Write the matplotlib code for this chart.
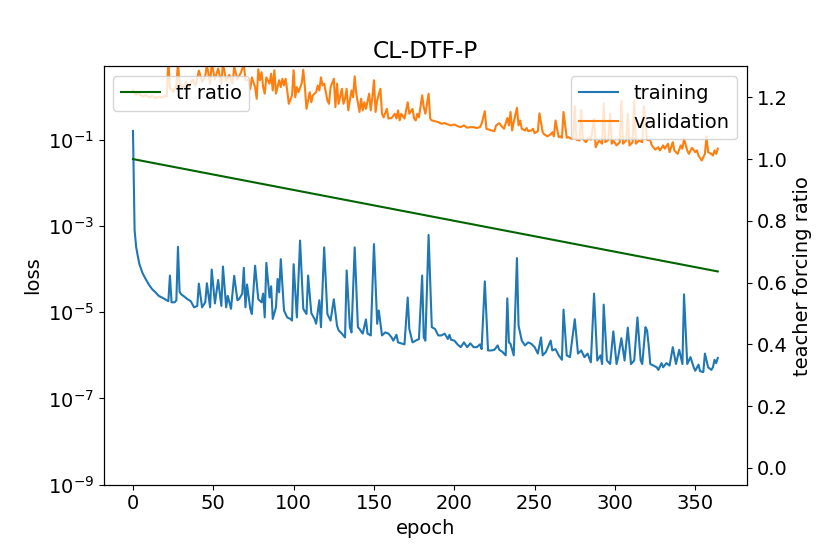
import matplotlib
matplotlib.use('Agg')
import matplotlib.pyplot as plt
from matplotlib.ticker import NullLocator

plt.rcParams['font.size'] = 14

# training loss
train_epoch = [0, 1, 2, 3, 4, 6, 8, 10, 12, 14, 16, 18, 20, 22, 23, 24, 26, 27, 28, 29,
               30, 32, 34, 36, 38, 40, 41, 43, 45, 46, 48, 49, 51, 53, 55, 56, 58, 59, 61, 63,
               65, 66, 68, 69, 70, 71, 73, 74, 76, 78, 80, 81, 82, 83, 85, 86, 87, 89, 90, 91,
               92, 94, 96, 98, 99, 100, 102, 104, 106, 108, 109, 111, 113, 114, 116, 117, 119, 121, 123, 125,
               127, 128, 130, 132, 133, 135, 136, 138, 140, 141, 143, 145, 146, 148, 150, 152, 153, 155, 157, 159,
               161, 162, 164, 165, 167, 169, 171, 172, 174, 176, 178, 180, 181, 182, 184, 186, 188, 190, 192, 194,
               196, 197, 198, 200, 202, 204, 206, 208, 210, 212, 214, 216, 217, 219, 221, 223, 225, 227, 228, 230,
               232, 233, 234, 235, 237, 239, 240, 242, 244, 246, 248, 250, 252, 254, 255, 257, 260, 261, 263, 265,
               267, 268, 270, 272, 275, 277, 279, 281, 283, 285, 287, 289, 291, 292, 293, 295, 297, 299, 301, 302,
               304, 306, 308, 310, 312, 314, 316, 317, 319, 320, 321, 322, 324, 326, 327, 329, 330, 332, 334, 336,
               338, 340, 342, 343, 345, 347, 349, 350, 352, 353, 355, 356, 358, 360, 361, 362, 363, 364]
train_loss = [0.16, 8e-4, 3.2e-4, 2e-4, 1.3e-4, 8e-5, 5.8e-5, 4.3e-5, 3.4e-5, 2.9e-5, 2.4e-5, 2.2e-5, 2.0e-5, 1.8e-5, 7.1e-5, 1.7e-5, 1.7e-5, 1.9e-5, 3.3e-4, 3.0e-5,
              2.6e-5, 2.3e-5, 2.0e-5, 1.8e-5, 1.3e-5, 1.4e-5, 4.6e-5, 1.3e-5, 1.7e-5, 4.7e-5, 1.3e-5, 9.8e-5, 1.6e-5, 5.6e-5, 1.4e-5, 1.15e-4, 1.3e-5, 2.4e-5, 1.2e-5, 7.0e-5,
              1.9e-5, 2.0e-5, 2.7e-5, 1.07e-4, 1.3e-5, 4.4e-5, 1.2e-5, 9.1e-6, 1.2e-4, 2.0e-5, 1.7e-5, 2.7e-5, 7.6e-6, 1.4e-4, 2.2e-5, 4.0e-5, 7.0e-6, 1.3e-5, 5.9e-5, 2.9e-5,
              1.7e-4, 1.1e-5, 7.6e-6, 7.0e-6, 6.4e-6, 1.3e-4, 7.6e-6, 4.6e-4, 1.2e-5, 9.1e-6, 7.1e-5, 9.5e-6, 7.0e-6, 5.4e-6, 1.9e-5, 4.5e-6, 3.2e-4, 9.1e-6, 6.4e-6, 2.0e-5,
              4.9e-6, 3.8e-6, 3.2e-6, 2.6e-6, 9.3e-5, 4.5e-6, 3.4e-6, 3.2e-4, 4.5e-6, 4.1e-6, 3.2e-6, 6.8e-6, 3.2e-6, 2.9e-6, 3.8e-4, 5.4e-6, 1.1e-5, 2.9e-6, 3.4e-6, 3.2e-6,
              2.6e-6, 2.2e-6, 3.0e-6, 2.0e-6, 1.9e-6, 1.8e-6, 2.2e-5, 4.1e-6, 2.0e-6, 2.2e-6, 2.4e-6, 7.1e-5, 2.6e-6, 2.2e-6, 6.2e-4, 4.5e-6, 4.1e-6, 2.9e-6, 2.9e-6, 3.2e-6,
              2.4e-6, 3.0e-6, 2.3e-6, 2.2e-6, 1.8e-6, 1.55e-6, 2.0e-6, 1.55e-6, 1.9e-6, 1.55e-6, 1.55e-6, 1.8e-6, 1.4e-6, 5.2e-5, 1.3e-6, 1.3e-6, 1.35e-6, 1.7e-6, 1.35e-6, 1.2e-6,
              1.0e-6, 2.1e-5, 2.0e-6, 1.85e-6, 1.0e-6, 1.8e-4, 4.9e-6, 2.2e-6, 1.7e-6, 2.0e-6, 1.85e-6, 1.55e-6, 1.1e-6, 2.6e-6, 1.0e-6, 1.2e-6, 2.2e-6, 1.3e-6, 1.4e-6, 1.0e-6,
              7.9e-7, 1.15e-5, 1.0e-6, 9.1e-7, 6.9e-6, 1.1e-6, 1.3e-6, 9.1e-7, 1.1e-6, 6.9e-7, 2.7e-5, 7.6e-7, 1.0e-6, 6.3e-7, 1.5e-5, 7.6e-7, 6.3e-7, 3.6e-6, 6.3e-7, 9.1e-7,
              2.5e-6, 7.6e-7, 4.4e-6, 6.3e-7, 7.6e-7, 7.6e-6, 7.6e-7, 6.3e-7, 4.5e-6, 3.8e-6, 1.7e-6, 6.3e-7, 5.8e-7, 5.3e-7, 4.6e-7, 6.6e-7, 5.3e-7, 6.6e-7, 5.8e-7, 1.55e-6,
              6.3e-7, 1.35e-6, 6.3e-7, 2.6e-5, 6.3e-7, 9.1e-7, 5.3e-7, 4.4e-7, 6.1e-7, 4.3e-7, 4.1e-7, 1.1e-6, 5.3e-7, 4.6e-7, 5.3e-7, 7.9e-7, 6.6e-7, 8.7e-7]

# validation loss
val_epoch = [0, 1, 2, 3, 4, 6, 8, 10, 12, 14, 16, 18, 20, 21, 22, 23, 25, 27, 28, 29,
             31, 33, 35, 37, 39, 41, 43, 45, 46, 48, 49, 51, 53, 55, 56, 58, 60, 62, 63, 65,
             67, 69, 70, 72, 73, 74, 76, 77, 78, 79, 80, 81, 82, 83, 85, 86, 87, 88, 89, 91,
             92, 93, 94, 95, 96, 97, 99, 100, 101, 102, 103, 105, 106, 107, 108, 110, 111, 112, 114, 115,
             116, 117, 118, 119, 121, 122, 123, 125, 126, 127, 128, 130, 131, 132, 133, 134, 136, 137, 138, 139,
             141, 142, 143, 144, 145, 147, 148, 149, 150, 151, 152, 154, 155, 156, 158, 159, 161, 163, 164, 165,
             166, 167, 169, 170, 171, 172, 174, 175, 176, 177, 178, 180, 181, 182, 183, 184, 185, 186, 188, 190,
             192, 194, 196, 198, 200, 202, 204, 206, 208, 210, 212, 214, 216, 217, 219, 220, 222, 223, 225, 226,
             228, 229, 231, 233, 234, 235, 236, 237, 239, 240, 241, 242, 244, 245, 246, 248, 249, 250, 252, 253,
             255, 256, 258, 260, 261, 262, 263, 265, 266, 267, 268, 270, 271, 273, 274, 275, 276, 278, 279, 280,
             282, 284, 285, 287, 288, 290, 292, 293, 294, 296, 297, 298, 299, 301, 303, 304, 305, 307, 308, 309,
             311, 312, 313, 315, 317, 318, 320, 322, 323, 325, 327, 328, 330, 331, 333, 334, 336, 337, 339, 341,
             342, 343, 345, 346, 348, 350, 351, 352, 354, 356, 357, 358, 360, 361, 362, 363, 364]
val_loss = [1.4, 1.2, 1.1, 1.25, 1.15, 1.0, 1.1, 0.95, 1.05, 0.92, 1.0, 0.95, 1.05, 1.0, 7.0, 1.6, 1.3, 1.8, 6.0, 2.0,
            1.5, 2.2, 1.7, 2.5, 1.8, 4.0, 2.2, 3.0, 5.5, 2.0, 6.0, 2.5, 4.5, 2.0, 6.0, 2.3, 3.2, 2.0, 5.0, 2.5,
            3.5, 5.5, 2.4, 2.4, 1.5, 2.8, 1.66, 0.89, 4.3, 2.4, 3.7, 1.66, 1.17, 2.8, 2.0, 3.4, 1.39, 4.1, 1.17, 2.4,
            1.66, 2.6, 1.82, 2.6, 1.39, 0.68, 1.07, 4.1, 0.97, 1.66, 1.27, 2.0, 4.2, 1.66, 0.52, 1.27, 0.74, 1.07, 1.27, 1.82,
            1.39, 2.8, 1.82, 2.0, 0.82, 0.68, 1.66, 2.6, 0.57, 2.0, 0.68, 1.52, 0.68, 0.89, 1.52, 0.48, 1.39, 0.97, 2.95, 1.17,
            0.44, 0.89, 0.48, 0.74, 0.52, 1.17, 0.48, 0.97, 2.4, 0.44, 0.82, 1.52, 0.40, 0.33, 0.52, 0.31, 0.32, 0.40, 0.31, 0.48,
            0.28, 0.40, 0.31, 0.48, 0.74, 0.40, 0.52, 0.31, 0.28, 0.40, 0.33, 1.07, 0.57, 0.40, 0.68, 1.17, 0.31, 0.28, 0.27, 0.256,
            0.235, 0.243, 0.226, 0.215, 0.226, 0.207, 0.196, 0.215, 0.19, 0.196, 0.196, 0.187, 0.196, 0.235, 0.46, 0.18, 0.17, 0.164, 0.158, 0.215,
            0.243, 0.215, 0.18, 0.32, 0.215, 0.44, 0.164, 0.256, 0.55, 0.215, 0.28, 0.18, 0.164, 0.187, 0.158, 0.164, 0.18, 0.142, 0.158, 0.41,
            0.15, 0.133, 0.12, 0.133, 0.15, 0.12, 0.28, 0.115, 0.12, 0.111, 0.44, 0.111, 0.115, 0.105, 0.111, 0.6, 0.1, 0.096, 0.5, 0.105,
            0.088, 0.115, 0.1, 0.3, 0.067, 0.096, 0.081, 0.7, 0.088, 0.1, 0.4, 0.081, 0.096, 0.074, 0.088, 0.8, 0.081, 0.096, 0.4, 0.074,
            0.088, 0.8, 0.081, 0.096, 0.088, 0.6, 0.1, 0.096, 0.074, 0.059, 0.067, 0.0565, 0.074, 0.062, 0.081, 0.0515, 0.088, 0.0565, 0.047, 0.074,
            0.062, 0.105, 0.0565, 0.047, 0.065, 0.0515, 0.0565, 0.043, 0.033, 0.047, 0.12, 0.0515, 0.047, 0.043, 0.0565, 0.047, 0.062]

# teacher forcing ratio (linear decay)
tf_epoch = [0, 364]
tf_ratio = [1.0, 0.636]

fig, ax1 = plt.subplots(figsize=(8.3, 5.54), dpi=100)
fig.subplots_adjust(left=0.125, right=0.9, bottom=0.125, top=0.88)

ax1.plot(train_epoch, train_loss, label='training')
ax1.plot(val_epoch, val_loss, label='validation')
ax1.set_yscale('log')
ax1.set_ylim(1e-9, 5)
ax1.set_yticks([1e-9, 1e-7, 1e-5, 1e-3, 1e-1])
ax1.yaxis.set_minor_locator(NullLocator())
ax1.set_xlabel('epoch')
ax1.set_ylabel('loss')
ax1.set_title('CL-DTF-P')
ax1.legend(loc='upper right')

ax2 = ax1.twinx()
ax2.plot(tf_epoch, tf_ratio, color='darkgreen', label='tf ratio')
ax2.set_ylim(-0.055, 1.3)
ax2.set_yticks([0.0, 0.2, 0.4, 0.6, 0.8, 1.0, 1.2])
ax2.set_ylabel('teacher forcing ratio')
ax2.legend(loc='upper left')

ax1.set_xlim(-18.2, 382.2)

plt.savefig('out.png', dpi=100)
